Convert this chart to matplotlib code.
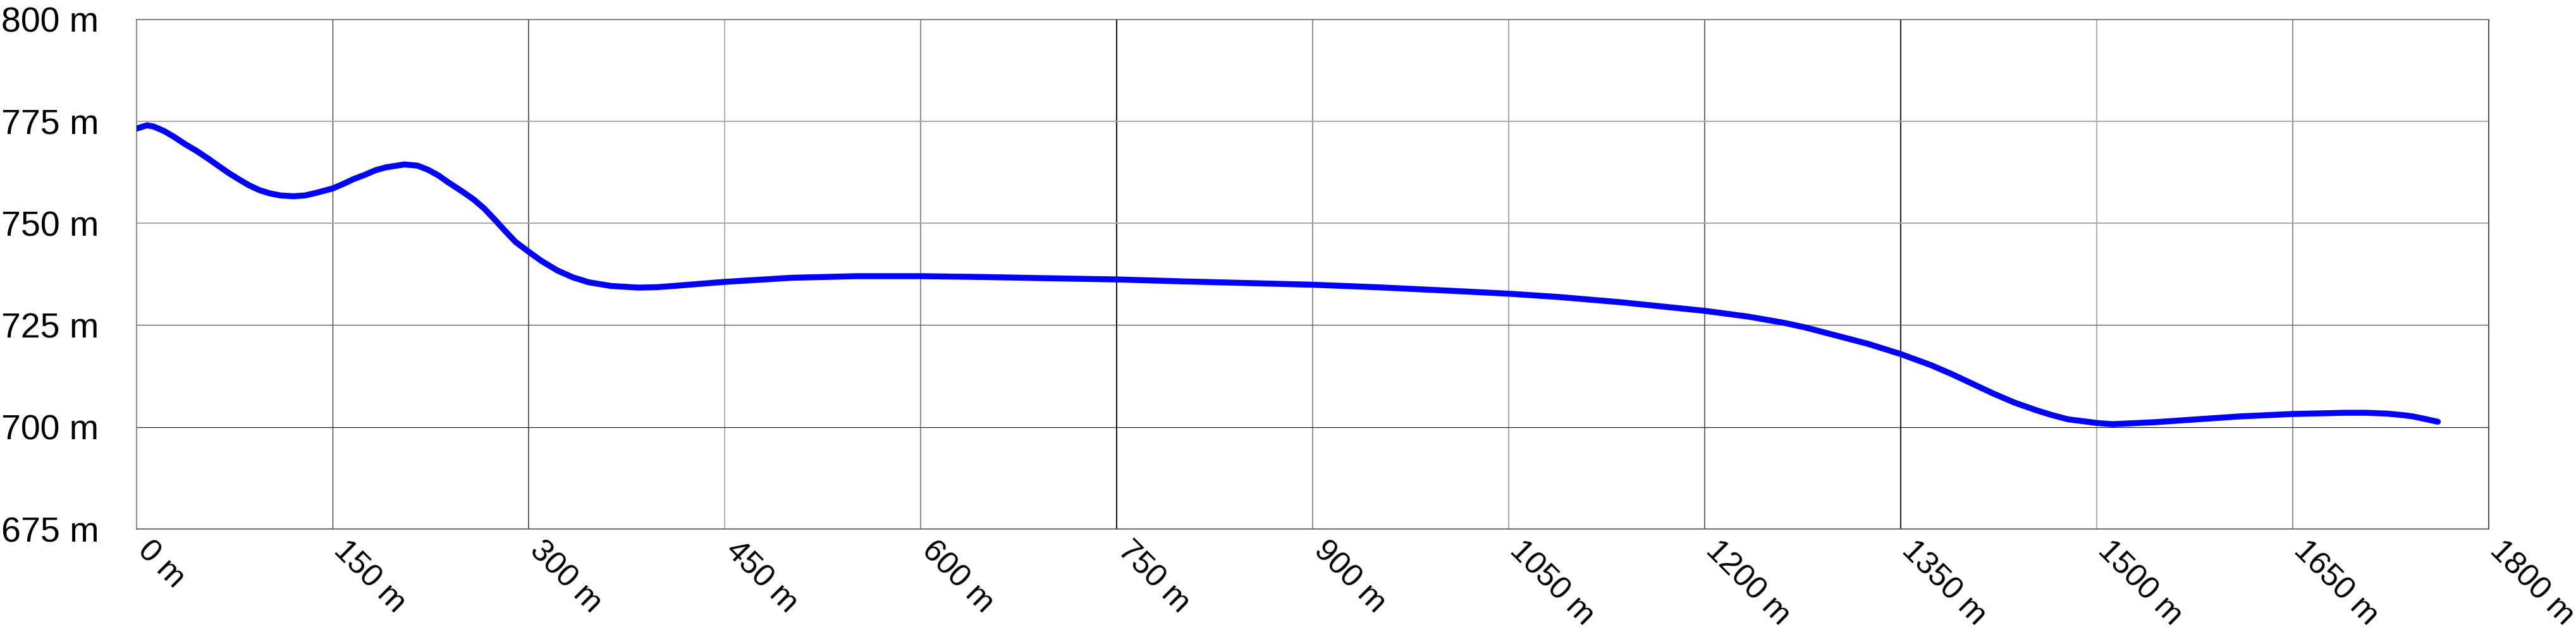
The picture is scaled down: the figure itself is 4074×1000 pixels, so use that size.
import matplotlib
matplotlib.use("Agg")
import matplotlib.pyplot as plt

# distance along track (m) and elevation (m)
distance = [0, 8, 13, 21, 29, 37, 46, 54, 62, 70, 78, 86, 94, 102, 110, 120,
            129, 137, 150, 158, 166, 175, 183, 191, 205, 215, 223, 231, 239,
            250, 258, 266, 274, 282, 290, 300, 310, 322, 334, 346, 363, 384,
            398, 411, 450, 501, 551, 600, 647, 696, 750, 803, 852, 900, 948,
            1007, 1050, 1088, 1136, 1200, 1233, 1260, 1276, 1300, 1325, 1350,
            1373, 1389, 1405, 1421, 1437, 1454, 1465, 1478, 1500, 1512, 1545,
            1577, 1609, 1650, 1690, 1706, 1722, 1735, 1742, 1751, 1761]
elevation = [773.2, 774.0, 773.7, 772.6, 771.1, 769.4, 767.7, 766.0, 764.2,
             762.4, 760.8, 759.3, 758.1, 757.3, 756.8, 756.6, 756.8, 757.4,
             758.5, 759.6, 760.8, 761.9, 763.0, 763.7, 764.4, 764.1, 763.1,
             761.7, 759.9, 757.6, 755.8, 753.6, 750.9, 748.1, 745.4, 743.0,
             740.7, 738.4, 736.7, 735.5, 734.6, 734.2, 734.3, 734.6, 735.6,
             736.6, 737.0, 737.0, 736.8, 736.5, 736.2, 735.7, 735.3, 734.9,
             734.3, 733.4, 732.7, 731.9, 730.6, 728.5, 727.1, 725.6, 724.5,
             722.5, 720.4, 717.9, 715.2, 713.0, 710.6, 708.2, 706.0, 704.1,
             703.0, 701.9, 701.0, 700.7, 701.2, 701.9, 702.6, 703.2, 703.5,
             703.5, 703.3, 702.9, 702.6, 702.0, 701.3]

x_ticks = list(range(0, 1801, 150))
y_ticks = [675, 700, 725, 750, 775, 800]
x_labels = [f"{v} m" for v in x_ticks]
y_labels = [f"{v} m" for v in y_ticks]

# grid line shades as they appear in the reference (inner lines only)
vgrid_style = {150: ('#111111', 0.8), 300: ('#606060', 1.4), 450: ('#b0b0b0', 1.4),
               600: ('#707070', 1.1), 750: ('#151515', 1.5), 900: ('#909090', 1.4),
               1050: ('#999999', 1.2), 1200: ('#404040', 1.1), 1350: ('#252525', 1.5),
               1500: ('#b0b0b0', 1.4), 1650: ('#909090', 1.4)}
hgrid_style = {700: ('#111111', 0.8), 725: ('#505050', 0.9),
               750: ('#a8a8a8', 1.4), 775: ('#a8a8a8', 1.4)}

plt.rcParams['font.family'] = ['Liberation Sans', 'DejaVu Sans']

fig = plt.figure(figsize=(40.74, 10), dpi=100)
ax = fig.add_axes([216 / 4074, 163 / 1000, 3720 / 4074, 806.5 / 1000])

for xv, (c, w) in vgrid_style.items():
    ax.axvline(xv, color=c, lw=w, zorder=1)
for yv, (c, w) in hgrid_style.items():
    ax.axhline(yv, color=c, lw=w, zorder=1)

ax.plot(distance, elevation, color='#0000ff', lw=6.8,
        solid_capstyle='round', solid_joinstyle='round', zorder=3)

ax.set_xlim(0, 1800)
ax.set_ylim(675, 800)
ax.tick_params(axis='both', length=0)
ax.tick_params(axis='x', pad=26, labelsize=36)
ax.tick_params(axis='y', pad=43, labelsize=40)
ax.set_xticks(x_ticks)
ax.set_yticks(y_ticks)
ax.set_xticklabels(x_labels, rotation=-45, ha='left', va='baseline',
                   rotation_mode='anchor')
ax.set_yticklabels(y_labels)

spine_colors = {'top': '#666666', 'left': '#777777', 'right': '#333333', 'bottom': '#555555'}
for name, s in ax.spines.items():
    s.set_color(spine_colors[name])
    s.set_linewidth(1.2)

fig.savefig("out.png", dpi=100, facecolor='white')
